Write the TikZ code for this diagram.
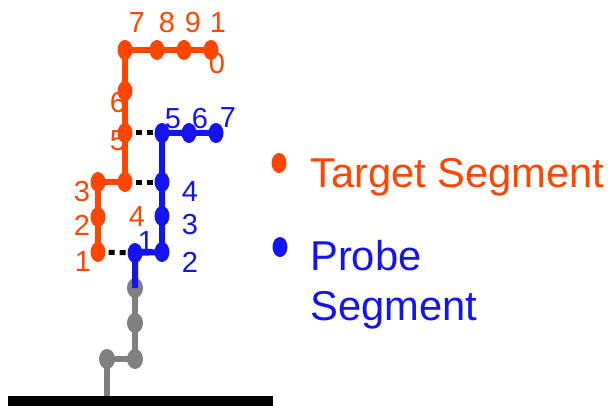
\documentclass[tikz,border=0pt]{standalone}
\usepackage{fontspec}
\setmainfont{Liberation Sans}
\usepackage{tikz}
\usetikzlibrary{shapes.geometric,backgrounds}
\pgfdeclarelayer{background}
\pgfsetlayers{background,main}
\definecolor{tgt}{RGB}{255,69,0}
\definecolor{prb}{RGB}{20,20,240}

\begin{document}
\begin{tikzpicture}[x=1pt, y=-1pt,
    tdot/.style={ellipse, fill=tgt, inner sep=0pt, minimum width=15pt, minimum height=20pt},
    pdot/.style={ellipse, fill=prb, inner sep=0pt, minimum width=15pt, minimum height=20pt},
    gdot/.style={ellipse, fill=gray, inner sep=0pt, minimum width=16pt, minimum height=20pt},
    tlbl/.style={text=tgt, inner sep=0pt, font=\fontsize{29}{29}\selectfont},
    plbl/.style={text=prb, inner sep=0pt, font=\fontsize{29}{29}\selectfont},
    keytxt/.style={inner sep=0pt, anchor=base west, font=\fontsize{41.7}{41.7}\selectfont},
    link/.style={line width=5pt, dash pattern=on 6pt off 5pt, dash phase=8pt}]

    \useasboundingbox (0,0) rectangle (615,406);

    % target segment
    \node[tdot] (t1) at (98,252) {};  \node[tdot] (t2) at (98,217) {};  \node[tdot] (t3) at (98,182) {};
    \node[tdot] (t4) at (125,182) {}; \node[tdot] (t5) at (125,133) {}; \node[tdot] (t6) at (125,91) {};
    \node[tdot] (t7) at (125,50) {};  \node[tdot] (t8) at (157,50) {};  \node[tdot] (t9) at (184,50) {};
    \node[tdot] (t10) at (211,50) {};

    % probe segment
    \node[pdot] (p1) at (135,253) {}; \node[pdot] (p2) at (162,252) {}; \node[pdot] (p3) at (162,216) {};
    \node[pdot] (p4) at (162,182) {}; \node[pdot] (p5) at (162,133) {}; \node[pdot] (p6) at (189,133) {};
    \node[pdot] (p7) at (216,133) {};

    % tail and base
    \node[gdot] (g2) at (135,323) {}; \node[gdot] (g3) at (135,359) {}; \node[gdot] (g4) at (107,359) {};
    \node[fill=black, inner sep=0pt, minimum width=265pt, minimum height=10pt] (base) at (140.5,401) {};

    % legend
    \node[tdot] (tkey) at (279,163) {};
    \node[pdot] (pkey) at (280,247) {};
    \node[keytxt, text=tgt] (tname) at (310,187) {Target Segment};
    \node[keytxt, text=prb] (pname) at (310,270) {Probe};
    \node[keytxt, text=prb] (pname2) at (310,320) {Segment};

    \begin{pgfonlayer}{background}
        \node[tlbl] (tl1) at (83,262) {1};  \node[tlbl] (tl2) at (82,225) {2};  \node[tlbl] (tl3) at (82,192) {3};
        \node[tlbl] (tl4) at (137,217) {4}; \node[tlbl] (tl5) at (118,141) {5}; \node[tlbl] (tl6) at (118,103) {6};
        \node[tlbl] (tl7) at (137,23) {7};  \node[tlbl] (tl8) at (167,23) {8};  \node[tlbl] (tl9) at (193,23) {9};
        \node[tlbl] (tl10a) at (218,23) {1}; \node[tlbl] (tl10b) at (217,64) {0};

        \node[plbl] (pl1) at (146,242) {1}; \node[plbl] (pl2) at (190,262) {2}; \node[plbl] (pl3) at (190,225) {3};
        \node[plbl] (pl4) at (190,192) {4}; \node[plbl] (pl5) at (173,119) {5}; \node[plbl] (pl6) at (200,119) {6};
        \node[plbl] (pl7) at (228,118) {7};

        \draw[line width=6pt, gray] (g4.center) -- (g4 |- base.north);
        \node[gdot] (g1) at (135,288) {};
        \draw[line width=6pt, gray] (g4.center) -- (g3.center) -- (g2.center) -- (g1.center);

        \draw[line width=6pt, tgt] (t1.center) -- (t3.center) -- (t4.center) -- (t7.center) -- (t10.center);
        \draw[line width=6pt, prb] (g1.center) -- (p1.center) -- (p2.center) -- (p5.center) -- (p7.center);

        \draw[link] (t5) -- (p5);
        \draw[link] (t4) -- (p4);
        \draw[link] (t1) -- (p1);
    \end{pgfonlayer}

\end{tikzpicture}
\end{document}
